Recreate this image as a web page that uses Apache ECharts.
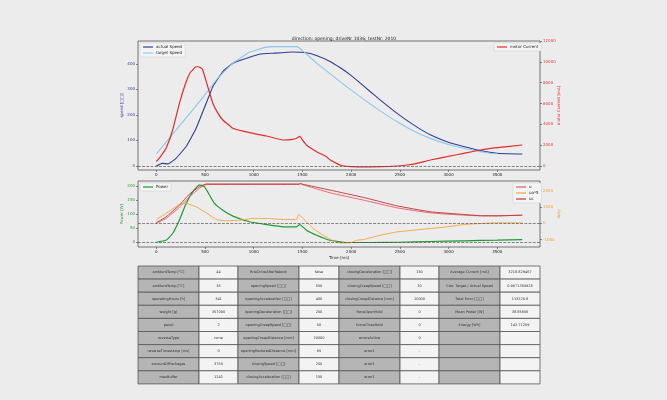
<!DOCTYPE html>
<html>
<head>
<meta charset="utf-8">
<script src="https://cdn.jsdelivr.net/npm/echarts@6/dist/echarts.min.js"></script>
<style>
html, body { margin: 0; padding: 0; background: #ececec; }
#chart { width: 667px; height: 400px; }
</style>
</head>
<body>
<div id="chart"></div>
<script>
// readings taken from the plot, [time ms, value]
var actualSpeed = [[0,0],[60,10],[120,8],[203,30],[306,76],[409,148],[512,246],[580,311],[683,370],[786,403],[957,426],[1061,438],[1198,442],[1404,447],[1541,444],[1650,432],[1782,410],[1885,386],[1988,358],[2090,326],[2194,292],[2297,259],[2468,207],[2640,161],[2812,122],[2983,95],[3155,76],[3327,60],[3498,50],[3756,47]];
var targetSpeed = [[0,46],[203,141],[443,252],[615,337],[786,403],[957,446],[1130,466],[1200,468],[1439,468],[1645,403],[1782,362],[1953,311],[2125,262],[2297,216],[2468,174],[2640,137],[2812,108],[2983,86],[3155,69],[3327,56],[3430,50],[3500,48]];
var motorCurrent = [[0,413],[50,1000],[100,1700],[168,3456],[237,6019],[306,8093],[350,9000],[374,9216],[400,9500],[425,9530],[460,9400],[477,9216],[528,7613],[580,6019],[630,5100],[683,4416],[786,3619],[957,3197],[1130,2880],[1301,2496],[1400,2550],[1439,2659],[1473,2850],[1500,2500],[1541,2016],[1645,1373],[1747,893],[1782,600],[1850,250],[1900,50],[2000,-60],[2200,-80],[2400,-40],[2468,0],[2571,96],[2674,259],[2812,576],[2983,893],[3155,1216],[3327,1536],[3498,1757],[3756,2016]];
var power = [[0,0],[100,7],[168,31],[237,79],[306,138],[374,180],[443,204],[494,198],[546,168],[597,138],[683,114],[786,93],[957,73],[1130,63],[1301,55],[1439,55],[1473,63],[1541,43],[1645,25],[1782,7],[1953,-1],[2200,-1],[2500,0],[2812,2.5],[3155,5],[3500,7.5],[3756,9.5]];
var dutyU = [[0,0],[100,290],[237,969],[340,1623],[443,2142],[512,2380],[1465,2380],[1480,2420],[1500,2370],[1782,1870],[2125,1420],[2468,947],[2812,636],[3155,494],[3327,453],[3498,453],[3756,494]];
var dutyUa5 = [[0,228],[100,599],[237,1154],[306,1216],[409,1006],[512,636],[615,228],[717,142],[855,185],[992,290],[1130,290],[1301,228],[1439,228],[1462,537],[1507,290],[1610,-327],[1713,-741],[1816,-1093],[1885,-1216],[1988,-1216],[2056,-1049],[2125,-1006],[2297,-741],[2468,-537],[2640,-432],[2812,-327],[2983,-228],[3155,-80],[3327,-19],[3498,19],[3756,19]];
var dutyUc = [[0,30],[100,390],[237,1111],[340,1790],[443,2241],[512,2407],[1465,2407],[1480,2450],[1500,2400],[1782,2037],[2125,1586],[2468,1070],[2812,700],[3155,537],[3327,460],[3498,453],[3756,494]];

var timeTicks = [0, 500, 1000, 1500, 2000, 2500, 3000, 3500];
var speedTicks = [0, 100, 200, 300, 400];
var currentTicks = [0, 2000, 4000, 6000, 8000, 10000, 12000];
var powerTicks = [0, 50, 100, 150, 200];
var dutyTicks = [-1000, 0, 1000, 2000];

var tableCols = [
    ['ambientTemp [°C]', 'ambientTemp [°C]', 'operatingHours [h]', 'weight [g]', 'panel', 'reverseType', 'reverseTimestamp [ms]', 'amountOfPackages', 'maxBuffer'],
    ['44', '35', '341', '357000', '2', 'none', '0', '3750', '1241'],
    ['firstDriveAfterReboot', 'openingSpeed [□□]', 'openingAcceleration [□□]', 'openingDeceleration [□□]', 'openingCreepSpeed [□□]', 'openingCreepDistance [mm]', 'openingReducedDistance [mm]', 'closingSpeed [□□]', 'closingAcceleration [□□]'],
    ['false', '550', '400', '200', '50', '20000', '65', '200', '150'],
    ['closingDeceleration [□□]', 'closingCreepSpeed [□□]', 'closingCreepDistance [mm]', 'forceOpenHold', 'forceCloseHold', 'errorsActive', 'error1', 'error1', 'error1'],
    ['150', '30', '10000', '0', '0', '0', '-', '-', '-'],
    ['Average Current [mA]', 'Corr. Target / Actual Speed', 'Total Error [□□]', 'Mean Power [W]', 'Energy [Wh]', '', '', '', ''],
    ['3218.829467', '0.9671350928', '113226.8', '38.85656', '142.71209', '', '', '', '']
];

var FONT = 'DejaVu Sans';

function plain(v) {
    return String(v);
}

function yAx(grid, pos, min, max, ticks, color, name) {
    return {
        type: 'value', gridIndex: grid, position: pos, min: min, max: max,
        name: name, nameLocation: 'middle', nameRotate: 90, nameGap: pos == 'left' ? 14 : 17,
        nameMoveOverlap: false,
        nameTextStyle: { color: color, fontSize: 4, fontFamily: FONT },
        axisLine: { show: false, onZero: false },
        axisTick: { show: true, length: 2, customValues: ticks, lineStyle: { color: '#444', width: 0.6 } },
        axisLabel: { customValues: ticks, formatter: plain, color: color, fontSize: 4, margin: 3, fontFamily: FONT },
        splitLine: { show: false }
    };
}

function xAx(grid, name) {
    return {
        type: 'value', gridIndex: grid, min: -188, max: 3938,
        name: name, nameLocation: 'middle', nameGap: 9,
        nameTextStyle: { color: '#222', fontSize: 4, fontFamily: FONT },
        axisLine: { show: false, onZero: false },
        axisTick: { show: true, length: 2, customValues: timeTicks, lineStyle: { color: '#444', width: 0.6 } },
        axisLabel: { customValues: timeTicks, formatter: plain, color: '#222', fontSize: 4, margin: 3, fontFamily: FONT },
        splitLine: { show: false }
    };
}

function line(name, data, color, xi, yi, width) {
    return {
        name: name, type: 'line', data: data, xAxisIndex: xi, yAxisIndex: yi,
        showSymbol: false, smooth: 0.12,
        lineStyle: { color: color, width: width }, itemStyle: { color: color },
        z: 3
    };
}

function zeroLine() {
    return {
        silent: true, symbol: 'none', label: { show: false },
        lineStyle: { type: 'dashed', color: '#555', width: 0.7 },
        data: [{ yAxis: 0 }]
    };
}

function legendBox(names, left, top) {
    return {
        data: names, orient: 'vertical', left: left, top: top,
        icon: 'rect', itemWidth: 10, itemHeight: 1.2, itemGap: 2,
        padding: [2, 3], borderColor: '#ccc', borderWidth: 0.5, borderRadius: 1.5,
        backgroundColor: '#f4f4f4',
        textStyle: { fontSize: 4, color: '#222', fontFamily: FONT, padding: [0, 0, 0, -2] }
    };
}

// table drawn as graphic elements
var colX = [138, 199, 238, 299, 339, 400, 439, 500, 540];
var rowTop = 266, rowH = 13.1;
var tableEls = [];
for (var c = 0; c < tableCols.length; c++) {
    for (var r = 0; r < tableCols[c].length; r++) {
        var x0 = colX[c], w = colX[c + 1] - colX[c], y0 = rowTop + r * rowH;
        tableEls.push({
            type: 'rect', silent: true,
            shape: { x: x0, y: y0, width: w, height: rowH },
            style: { fill: c % 2 == 0 ? '#b5b5b5' : '#f3f3f3', stroke: '#555', lineWidth: 0.8 }
        });
        tableEls.push({
            type: 'text', silent: true, x: x0 + w / 2, y: y0 + rowH / 2,
            style: { text: tableCols[c][r], align: 'center', verticalAlign: 'middle',
                     fontSize: 3.5, fontFamily: FONT, fill: '#333' }
        });
    }
}

var dom = document.getElementById('chart');
var chart = echarts.init(dom);

var option = {
    backgroundColor: '#ececec',
    animation: false,
    title: {
        text: 'direction: opening; driveNr 1036; testNr: 2010',
        left: 339, top: 31, textAlign: 'center',
        textStyle: { fontSize: 4.5, fontWeight: 'normal', color: '#222', fontFamily: FONT }
    },
    grid: [
        { left: 138, right: 127, top: 41, height: 129, show: true, borderColor: '#555', borderWidth: 0.8, backgroundColor: '#ececec' },
        { left: 138, right: 127, top: 181, height: 66, show: true, borderColor: '#555', borderWidth: 0.8, backgroundColor: '#ececec' }
    ],
    xAxis: [xAx(0, ''), xAx(1, 'Time [ms]')],
    yAxis: [
        yAx(0, 'left', -16, 490, speedTicks, '#2f3d96', 'speed [□□]'),
        yAx(0, 'right', -384, 12000, currentTicks, '#e0393c', 'motor Current [mA]'),
        yAx(1, 'left', -17, 218, powerTicks, '#2c9a3a', 'Power [W]'),
        yAx(1, 'right', -1463, 2593, dutyTicks, '#efa43a', 'duty')
    ],
    legend: [
        legendBox(['actual Speed', 'target Speed'], 140, 43),
        legendBox(['motor Current'], 494, 43),
        legendBox(['Power'], 140, 183),
        legendBox(['u', 'ua*5', 'uc'], 513, 183)
    ],
    series: [
        Object.assign(line('actual Speed', actualSpeed, '#2f3d96', 0, 0, 1.1), { markLine: zeroLine() }),
        line('target Speed', targetSpeed, '#8cc8ea', 0, 0, 1.1),
        line('motor Current', motorCurrent, '#e52a2a', 0, 1, 1.2),
        Object.assign(line('Power', power, '#1f9a32', 1, 2, 1.2), { markLine: zeroLine() }),
        line('u', dutyU, '#ea5a5e', 1, 3, 0.9),
        Object.assign(line('ua*5', dutyUa5, '#f2a435', 1, 3, 0.9), { markLine: zeroLine() }),
        line('uc', dutyUc, '#b8363c', 1, 3, 0.9)
    ],
    graphic: tableEls
};

chart.setOption(option);
window.addEventListener('resize', function () {
    chart.resize();
});
</script>
</body>
</html>
